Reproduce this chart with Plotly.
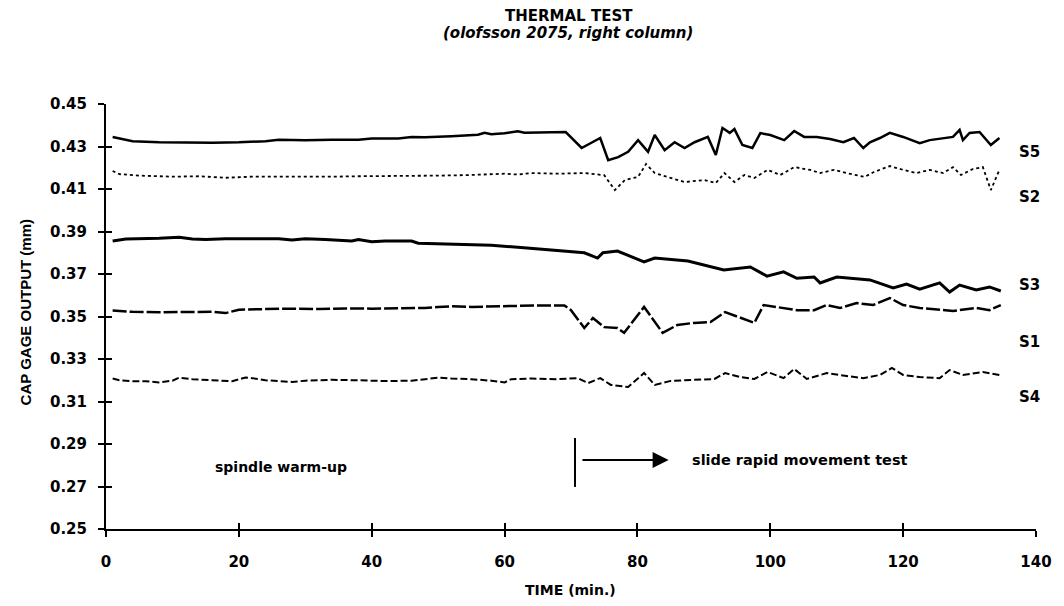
import plotly.graph_objects as go

# ---------------- data ----------------
s5_t = [1, 2, 4, 8, 12, 16, 20, 24, 26, 30, 34, 38, 40, 44, 46, 48, 52, 56, 57, 58, 60, 62, 63, 66, 69.2,
        71.6, 74.4, 75.6, 77.1, 78.6, 80.1, 81.6, 82.6, 84.1, 85.6, 87.1, 88.6, 90.6, 91.8, 92.8, 93.9, 94.6,
        95.8, 97.3, 98.5, 100, 102.1, 103.6, 105.1, 107, 109, 111, 112.6, 114, 115, 116.5, 118, 120, 122.5,
        124, 126, 127.5, 128.5, 129, 130, 131.5, 133.2, 134.5]
s5_v = [0.4345, 0.4338, 0.4325, 0.4320, 0.4318, 0.4318, 0.4320, 0.4325, 0.4332, 0.4330, 0.4332, 0.4332,
        0.4338, 0.4338, 0.4345, 0.4343, 0.4348, 0.4355, 0.4365, 0.4358, 0.4362, 0.4372, 0.4365, 0.4368, 0.4368,
        0.4293, 0.4340, 0.4236, 0.4250, 0.4275, 0.4330, 0.4275, 0.4354, 0.4283, 0.4320, 0.4293, 0.4320,
        0.4345, 0.4260, 0.4387, 0.4364, 0.4382, 0.4307, 0.4293, 0.4363, 0.4354, 0.4330, 0.4373, 0.4345,
        0.4345, 0.4335, 0.4320, 0.4340, 0.4293, 0.4320, 0.4340, 0.4364, 0.4345, 0.4316, 0.4330, 0.4340,
        0.4345, 0.4378, 0.4330, 0.4364, 0.4368, 0.4307, 0.4340]

s2_t = [1, 2, 5, 10, 14, 18, 22, 26, 30, 34, 38, 42, 46, 50, 54, 58, 60, 62, 64, 68, 72, 75,
        76.6, 78.1, 80.1, 81.3, 82.6, 85, 87.1, 90.1, 91.8, 93.1, 94.6, 96.1, 97.6, 99.6, 101.5, 103.6,
        106, 107.5, 109.6, 111.5, 114.2, 115.6, 118, 120, 122, 124, 126, 127.5, 128.7, 130.5, 132,
        133.2, 134.5]
s2_v = [0.4185, 0.4170, 0.4163, 0.4158, 0.4160, 0.4153, 0.4158, 0.4158, 0.4155, 0.4158, 0.4160, 0.4160,
        0.4162, 0.4163, 0.4165, 0.4170, 0.4172, 0.4168, 0.4175, 0.4172, 0.4175, 0.4165,
        0.4095, 0.4142, 0.4157, 0.4218, 0.4175, 0.4152, 0.4133, 0.4142, 0.4128, 0.4175, 0.4133, 0.4166,
        0.4152, 0.4190, 0.4166, 0.4203, 0.4190, 0.4175, 0.4190, 0.4175, 0.4157, 0.4180, 0.4208, 0.4190,
        0.4175, 0.4190, 0.4175, 0.4203, 0.4166, 0.4194, 0.4203, 0.4095, 0.4190]

s3_t = [1, 3, 8, 11, 13, 15, 18, 22, 26, 28, 30, 33, 35, 37, 38, 40, 42, 46, 47, 50, 54, 58, 62, 66,
        70, 72, 74, 74.8, 77, 81, 82.6, 87.6, 93, 97, 99.5, 102, 104, 106.6, 107.5, 110, 115, 118.5,
        120.5, 122.5, 125.5, 127, 128.5, 131, 133, 134.7]
s3_v = [0.3855, 0.3865, 0.3868, 0.3873, 0.3865, 0.3862, 0.3866, 0.3866, 0.3866, 0.3860, 0.3866, 0.3862,
        0.3860, 0.3855, 0.3862, 0.3852, 0.3855, 0.3855, 0.3845, 0.3842, 0.3840, 0.3835, 0.3826, 0.3815,
        0.3805, 0.3800, 0.3775, 0.3800, 0.3808, 0.3757, 0.3775, 0.3761, 0.3719, 0.3733, 0.3690, 0.3710,
        0.3680, 0.3686, 0.3658, 0.3686, 0.3672, 0.3634, 0.3653, 0.3629, 0.3658, 0.3615, 0.3648, 0.3625,
        0.3639, 0.3620]

s1_t = [1, 4, 8, 12, 16, 18, 20, 24, 28, 32, 36, 40, 44, 48, 50, 52, 55, 58, 62, 66, 69, 70,
        72, 73.3, 75, 77, 78, 81, 83.8, 86, 88.5, 91, 93.2, 95, 97.6, 99, 101, 104, 106.6, 108.5,
        110.5, 113, 115.5, 118, 120, 122.5, 127.5, 131, 133, 134.7]
s1_v = [0.3528, 0.3522, 0.3520, 0.3522, 0.3522, 0.3516, 0.3532, 0.3535, 0.3537, 0.3535, 0.3538, 0.3537,
        0.3538, 0.3540, 0.3545, 0.3548, 0.3545, 0.3548, 0.3550, 0.3552, 0.3552, 0.3530,
        0.3446, 0.3493, 0.3450, 0.3446, 0.3423, 0.3545, 0.3423, 0.3460, 0.3470, 0.3474, 0.3521, 0.3500,
        0.3470, 0.3554, 0.3545, 0.3530, 0.3530, 0.3554, 0.3540, 0.3563, 0.3554, 0.3587, 0.3554, 0.3540,
        0.3526, 0.3540, 0.3530, 0.3554]

s4_t = [1, 2, 4, 6, 8, 10, 11, 13, 16, 19, 21, 22, 24, 26, 28, 30, 34, 38, 42, 46, 50, 52, 55, 58,
        60, 61, 64, 68, 71, 72.6, 74.4, 76, 78.6, 81, 82.6, 85, 88.6, 91.6, 93.2, 95.5, 97.6, 99.6,
        102, 103.6, 105.5, 108.5, 111.5, 114, 116.5, 118.3, 120, 122.5, 125.5, 127, 129, 132, 134.5]
s4_v = [0.3208, 0.3200, 0.3195, 0.3195, 0.3190, 0.3198, 0.3212, 0.3205, 0.3200, 0.3195, 0.3213, 0.3210,
        0.3200, 0.3195, 0.3192, 0.3198, 0.3202, 0.3200, 0.3196, 0.3198, 0.3212, 0.3208, 0.3205, 0.3198,
        0.3190, 0.3205, 0.3208, 0.3205, 0.3210, 0.3187, 0.3210, 0.3178, 0.3168, 0.3234, 0.3178, 0.3197,
        0.3201, 0.3206, 0.3234, 0.3215, 0.3206, 0.3239, 0.3210, 0.3253, 0.3206, 0.3234, 0.3220, 0.3210,
        0.3225, 0.3258, 0.3225, 0.3215, 0.3210, 0.3248, 0.3225, 0.3239, 0.3225]

series_names = ["S5", "S2", "S3", "S1", "S4"]
label_y = [0.4274, 0.4062, 0.3648, 0.3380, 0.3120]
x_ticks = [0, 20, 40, 60, 80, 100, 120, 140]
y_ticks = [0.25, 0.27, 0.29, 0.31, 0.33, 0.35, 0.37, 0.39, 0.41, 0.43, 0.45]

FONT = "DejaVu Sans, Verdana, sans-serif"

fig = go.Figure()
styles = {
    "S5": dict(width=2.5, dash="solid"),
    "S2": dict(width=1.8, dash="dot"),
    "S3": dict(width=3, dash="solid"),
    "S1": dict(width=2.5, dash="14px,3px"),
    "S4": dict(width=2, dash="7px,3px"),
}
data = {"S5": (s5_t, s5_v), "S2": (s2_t, s2_v), "S3": (s3_t, s3_v),
        "S1": (s1_t, s1_v), "S4": (s4_t, s4_v)}
for name in series_names:
    t, v = data[name]
    fig.add_trace(go.Scatter(x=t, y=v, mode="lines", name=name,
                             line=dict(color="black", **styles[name]),
                             showlegend=False))

# invisible copy on the overlay axes so their inward ticks get drawn (cross-shaped ticks)
fig.add_trace(go.Scatter(x=s3_t, y=s3_v, mode="lines", xaxis="x2", yaxis="y2",
                         line=dict(color="rgba(0,0,0,0)", width=0), hoverinfo="skip",
                         showlegend=False))

axis_common = dict(showgrid=False, zeroline=False, color="black")
fig.update_layout(
    width=1064, height=606,
    margin=dict(l=106, r=26, t=104, b=77),
    paper_bgcolor="white", plot_bgcolor="white",
    xaxis=dict(range=[0, 140], tickvals=x_ticks, showline=True, linewidth=2, linecolor="black",
               ticks="outside", ticklen=6, tickwidth=2, tickcolor="black",
               ticklabelstandoff=12,
               tickfont=dict(family=FONT, size=15, weight="bold", color="black"), **axis_common),
    yaxis=dict(range=[0.25, 0.45], tickvals=y_ticks, tickformat=".2f", showline=True, linewidth=2,
               linecolor="black", ticks="outside", ticklen=6, tickwidth=2, tickcolor="black",
               ticklabelstandoff=8,
               tickfont=dict(family=FONT, size=15, weight="bold", color="black"), **axis_common),
    xaxis2=dict(range=[0, 140], tickvals=x_ticks, overlaying="x", anchor="y", side="bottom",
                ticks="inside", ticklen=6, tickwidth=2, tickcolor="black", showticklabels=False,
                showline=False, **axis_common),
    yaxis2=dict(range=[0.25, 0.45], tickvals=y_ticks, overlaying="y", anchor="x", side="left",
                ticks="inside", ticklen=6, tickwidth=2, tickcolor="black", showticklabels=False,
                showline=False, **axis_common),
)

annos = []
annos.append(dict(text="THERMAL TEST", xref="paper", yref="paper", x=0.498, y=1.207,
                  showarrow=False, font=dict(family=FONT, size=15, weight="bold", color="black"),
                  xanchor="center", yanchor="middle"))
annos.append(dict(text="<i>(olofsson 2075, right column)</i>", xref="paper", yref="paper", x=0.497,
                  y=1.167, showarrow=False,
                  font=dict(family=FONT, size=15, weight="bold", color="black"),
                  xanchor="center", yanchor="middle"))
annos.append(dict(text="TIME (min.)", xref="paper", yref="paper", x=0.4995, y=-0.1435,
                  showarrow=False, font=dict(family=FONT, size=14, weight="bold", color="black"),
                  xanchor="center", yanchor="middle"))
annos.append(dict(text="CAP GAGE OUTPUT (mm)", xref="paper", yref="paper", x=-0.0869, y=0.51,
                  textangle=-90, showarrow=False,
                  font=dict(family="Liberation Sans, Arial, sans-serif", size=15, weight="bold",
                            color="black"),
                  xanchor="center", yanchor="middle"))
for name, ly in zip(series_names, label_y):
    annos.append(dict(text=name, x=139, y=ly, xref="x", yref="y", showarrow=False,
                      font=dict(family=FONT, size=15, weight="bold", color="black"),
                      xanchor="center", yanchor="middle"))
annos.append(dict(text="spindle warm-up", x=26.4, y=0.2792, xref="x", yref="y", showarrow=False,
                  font=dict(family=FONT, size=14, weight="bold", color="black"),
                  xanchor="center", yanchor="middle"))
annos.append(dict(text="slide rapid movement test", x=104.4, y=0.2825, xref="x", yref="y",
                  showarrow=False, font=dict(family=FONT, size=14.5, weight="bold", color="black"),
                  xanchor="center", yanchor="middle"))
annos.append(dict(text="", x=84.7, y=0.2825, ax=71.5, ay=0.2825, xref="x", yref="y",
                  axref="x", ayref="y", showarrow=True, arrowhead=2, arrowsize=1.6,
                  arrowwidth=2, arrowcolor="black"))
fig.update_layout(annotations=annos)
fig.add_shape(type="line", x0=70.6, x1=70.6, y0=0.2698, y1=0.2928, xref="x", yref="y",
              line=dict(color="black", width=2))

fig.write_html("out.html", config={"displayModeBar": False},
               post_script="document.body.style.margin='0';")
